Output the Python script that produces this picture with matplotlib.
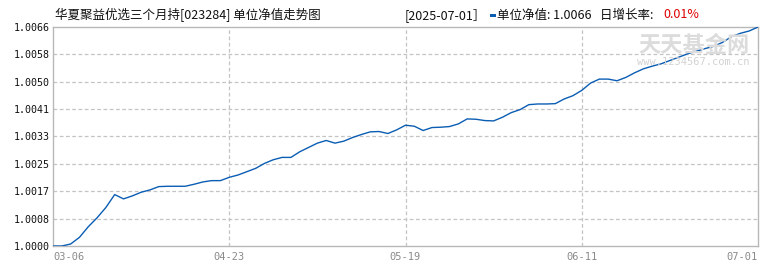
import matplotlib
matplotlib.use("Agg")
import matplotlib.pyplot as plt
from matplotlib.patches import Rectangle

plt.rcParams['font.family'] = ['Noto Sans CJK SC', 'DejaVu Sans']

# ---- data ----
nav = [
    1.00000, 1.00000, 1.00006, 1.00026, 1.00058, 1.00085, 1.00116, 1.00155, 1.00142, 1.00151,
    1.00162, 1.00169, 1.00179, 1.00180, 1.00180, 1.00180, 1.00186, 1.00193, 1.00197, 1.00197,
    1.00207, 1.00214, 1.00224, 1.00234, 1.00249, 1.00260, 1.00267, 1.00267, 1.00284, 1.00297,
    1.00310, 1.00318, 1.00310, 1.00316, 1.00327, 1.00336, 1.00344, 1.00345, 1.00339, 1.00350,
    1.00364, 1.00361, 1.00348, 1.00357, 1.00358, 1.00360, 1.00368, 1.00383, 1.00382, 1.00378,
    1.00377, 1.00388, 1.00402, 1.00411, 1.00426, 1.00428, 1.00428, 1.00429, 1.00443, 1.00453,
    1.00469, 1.00491, 1.00503, 1.00503, 1.00498, 1.00508, 1.00522, 1.00534, 1.00542, 1.00549,
    1.00559, 1.00569, 1.00579, 1.00587, 1.00595, 1.00602, 1.00614, 1.00631, 1.00641, 1.00648,
    1.00660,
]
x_tick_labels = ["03-06", "04-23", "05-19", "06-11", "07-01"]
y_tick_values = [1.0000, 1.000825, 1.00165, 1.002475, 1.0033, 1.004125, 1.00495, 1.005775, 1.0066]
y_tick_labels = ["1.0000", "1.0008", "1.0017", "1.0025", "1.0033", "1.0041", "1.0050", "1.0058", "1.0066"]
title_text = "华夏聚益优选三个月持[023284] 单位净值走势图"
date_text = "[2025-07-01］"
nav_text = "单位净值: 1.0066"
growth_label = "日增长率: "
growth_value = "0.01%"
watermark = "天天基金网"
watermark_url = "www.1234567.com.cn"

W, H = 770, 270
fig = plt.figure(figsize=(W / 100, H / 100), dpi=100)
fig.patch.set_facecolor('white')

def px(x, y_from_top):
    return x / W, 1 - y_from_top / H

left, right, top, bottom = 53, 758, 27, 246
ax = fig.add_axes([left / W, 1 - bottom / H, (right - left) / W, (bottom - top) / H])

xs = list(range(len(nav)))
ax.plot(xs, nav, color='#0a5db3', lw=1.0, zorder=3)

n = len(nav) - 1
x_ticks = [0, n / 4, n / 2, 3 * n / 4, n]
ax.set_xlim(0, n)
ax.set_ylim(y_tick_values[0], y_tick_values[-1])
ax.set_xticks(x_ticks)
ax.set_xticklabels(x_tick_labels)
ax.set_yticks(y_tick_values)
ax.set_yticklabels(y_tick_labels)

grid_col = '#c4c4c4'
for yv in y_tick_values[1:-1]:
    ax.axhline(yv, color=grid_col, lw=0.9, ls=(0, (3, 2)), zorder=1)
for xv in x_ticks[1:-1]:
    ax.axvline(xv, color=grid_col, lw=0.9, ls=(0, (3, 2)), zorder=1)

for s in ax.spines.values():
    s.set_color('#b8b8b8')
    s.set_linewidth(1.0)

ax.tick_params(axis='both', length=0)
ax.tick_params(axis='y', pad=2, labelsize=7.2, labelcolor='#111111')
ax.tick_params(axis='x', pad=4, labelsize=7.5, labelcolor='#8a8a8a')
for lab in ax.get_yticklabels() + ax.get_xticklabels():
    lab.set_family(['DejaVu Sans Mono'])
xl = ax.get_xticklabels()
xl[0].set_ha('left')
xl[-1].set_ha('right')

# header texts
fs = 9
fig.text(*px(55, 15), title_text, fontsize=fs, va='center', ha='left', color='#111111')
fig.text(*px(405, 15), date_text, fontsize=fs, va='center', ha='left', color='#111111')
fig.patches.append(Rectangle(px(490, 17), 6 / W, 3 / H, transform=fig.transFigure,
                             facecolor='#0a5db3', edgecolor='none'))
fig.text(*px(497, 15), nav_text, fontsize=fs, va='center', ha='left', color='#111111')
fig.text(*px(600, 15), growth_label, fontsize=fs, va='center', ha='left', color='#111111')
fig.text(*px(663, 15), growth_value, fontsize=fs, va='center', ha='left', color='#dd0000')

# watermark
fig.text(*px(694, 46), watermark, fontsize=16, fontweight='bold', va='center', ha='center',
         color='#dcdcdc', zorder=0)
fig.text(*px(693, 62), watermark_url, fontsize=7.5, va='center', ha='center',
         color='#d2d2d2', family=['DejaVu Sans Mono'], zorder=0)

fig.savefig('out.png', dpi=100, facecolor='white')
